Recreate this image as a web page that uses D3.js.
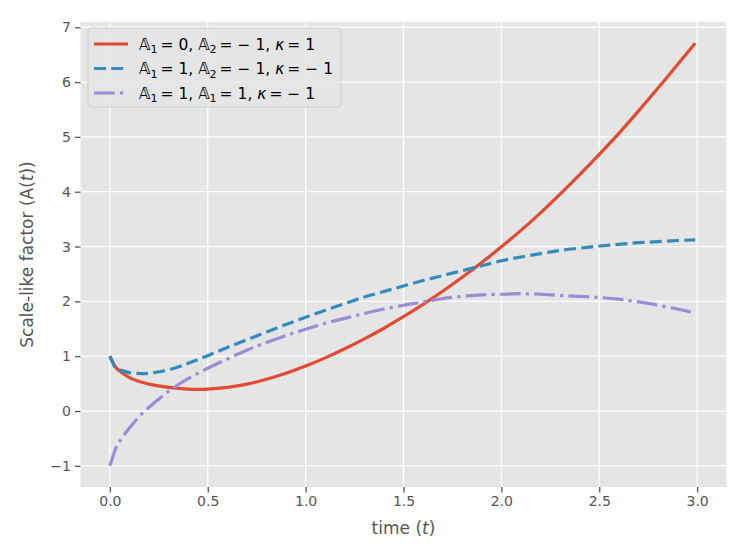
<!DOCTYPE html>
<html>
<head>
<meta charset="utf-8">
<script src="https://cdn.jsdelivr.net/npm/d3@7"></script>
<style>
  body { margin: 0; background: #fff; }
  svg { font-family: "DejaVu Sans", sans-serif; }
</style>
</head>
<body>
<svg id="chart" width="747" height="560"></svg>
<script>
// time samples and curves
const times = [0, 0.025, 0.05, 0.1, 0.15, 0.2, 0.3, 0.4, 0.5, 0.6, 0.7, 0.8, 0.9, 1.0,
  1.1, 1.2, 1.3, 1.4, 1.5, 1.6, 1.7, 1.8, 1.9, 2.0, 2.1, 2.2, 2.3, 2.4, 2.5, 2.6, 2.7, 2.8, 2.9, 2.99];

const redVals = [1.0, 0.82, 0.73, 0.61, 0.54, 0.49, 0.43, 0.40, 0.40, 0.43, 0.49, 0.58, 0.69, 0.82,
  0.97, 1.135, 1.315, 1.51, 1.72, 1.945, 2.185, 2.44, 2.71, 2.995, 3.295, 3.615, 3.955, 4.31, 4.68, 5.065, 5.47, 5.89, 6.32, 6.71];

const blueVals = [1.0, 0.81, 0.75, 0.70, 0.685, 0.69, 0.75, 0.87, 1.01, 1.16, 1.30, 1.44, 1.58, 1.71,
  1.84, 1.96, 2.08, 2.18, 2.28, 2.38, 2.47, 2.56, 2.65, 2.74, 2.81, 2.87, 2.93, 2.97, 3.01, 3.04, 3.07, 3.09, 3.11, 3.12];

const purpleVals = [-1.0, -0.73, -0.55, -0.31, -0.10, 0.07, 0.36, 0.59, 0.78, 0.95, 1.11, 1.25, 1.38, 1.49,
  1.60, 1.69, 1.78, 1.86, 1.93, 1.99, 2.05, 2.09, 2.12, 2.13, 2.14, 2.13, 2.11, 2.09, 2.07, 2.04, 1.99, 1.93, 1.86, 1.79];

const xTicks = [0, 0.5, 1.0, 1.5, 2.0, 2.5, 3.0];
const yTicks = [-1, 0, 1, 2, 3, 4, 5, 6, 7];

const series = [
  {name: 'red', vals: redVals, color: '#E24A33', dash: null,
   label: [['𝔸', '1', '= 0, '], ['𝔸', '2', '= − 1, '], ['κ', null, '= 1']]},
  {name: 'blue', vals: blueVals, color: '#348ABD', dash: '12,5.2',
   label: [['𝔸', '1', '= 1, '], ['𝔸', '2', '= − 1, '], ['κ', null, '= − 1']]},
  {name: 'purple', vals: purpleVals, color: '#988ED5', dash: '20.7,5.2,3.2,5.2',
   label: [['𝔸', '1', '= 1, '], ['𝔸', '1', '= 1, '], ['κ', null, '= − 1']]}
];

const svg = d3.select('#chart');
const margin = {left: 80.5, right: 20.5, top: 22, bottom: 73};
const W = 747, H = 560;

// matplotlib style 5% padding around the data
const allVals = [].concat(redVals, blueVals, purpleVals);
const xMin = 0, xMax = 3;
const yLo = d3.min(allVals), yHi = d3.max(allVals);
const xPad = (xMax - xMin) * 0.05, yPad = (yHi - yLo) * 0.05;

const x = d3.scaleLinear().domain([xMin - xPad, xMax + xPad]).range([margin.left, W - margin.right]);
const y = d3.scaleLinear().domain([yLo - yPad, yHi + yPad]).range([H - margin.bottom, margin.top]);

// background + grid
svg.append('rect')
  .attr('x', margin.left).attr('y', margin.top)
  .attr('width', W - margin.left - margin.right)
  .attr('height', H - margin.top - margin.bottom)
  .attr('fill', '#E5E5E5');

const grid = svg.append('g').attr('stroke', '#fff').attr('stroke-width', 1.3);
grid.selectAll('.gx').data(xTicks).enter().append('line')
  .attr('x1', d => x(d)).attr('x2', d => x(d))
  .attr('y1', margin.top).attr('y2', H - margin.bottom);
grid.selectAll('.gy').data(yTicks).enter().append('line')
  .attr('y1', d => y(d)).attr('y2', d => y(d))
  .attr('x1', margin.left).attr('x2', W - margin.right);

// axes
const fmtX = d3.format('.1f');
const fmtY = d => d3.format('d')(d).replace('-', '−');

const xAxis = svg.append('g')
  .attr('transform', `translate(0,${H - margin.bottom})`)
  .call(d3.axisBottom(x).tickValues(xTicks).tickFormat(fmtX).tickSize(5.5).tickPadding(4));
const yAxis = svg.append('g')
  .attr('transform', `translate(${margin.left},0)`)
  .call(d3.axisLeft(y).tickValues(yTicks).tickFormat(fmtY).tickSize(5.5).tickPadding(4));

[xAxis, yAxis].forEach(a => {
  a.select('.domain').remove();
  a.selectAll('.tick line').attr('stroke', '#555555').attr('stroke-width', 1.3);
  a.selectAll('.tick text').attr('fill', '#555555').attr('font-size', 14)
    .attr('font-family', '"DejaVu Sans", sans-serif');
});

// curves
const line = d3.line()
  .x((d, i) => x(times[i]))
  .y(d => y(d))
  .curve(d3.curveNatural);

const clip = svg.append('clipPath').attr('id', 'clip').append('rect')
  .attr('x', margin.left).attr('y', margin.top)
  .attr('width', W - margin.left - margin.right)
  .attr('height', H - margin.top - margin.bottom);

const plot = svg.append('g').attr('clip-path', 'url(#clip)');
series.forEach(s => {
  plot.append('path')
    .datum(s.vals)
    .attr('d', line)
    .attr('fill', 'none')
    .attr('stroke', s.color)
    .attr('stroke-width', 3.2)
    .attr('stroke-dasharray', s.dash);
});

// axis labels
svg.append('text')
  .attr('x', (margin.left + W - margin.right) / 2)
  .attr('y', 534)
  .attr('text-anchor', 'middle')
  .attr('fill', '#555555')
  .attr('font-size', 17)
  .call(t => {
    t.append('tspan').text('time (');
    t.append('tspan').attr('font-style', 'italic').text('t');
    t.append('tspan').text(')');
  });

svg.append('text')
  .attr('transform', `translate(33,${(margin.top + H - margin.bottom) / 2}) rotate(-90)`)
  .attr('text-anchor', 'middle')
  .attr('fill', '#555555')
  .attr('font-size', 17)
  .call(t => {
    t.append('tspan').text('Scale-like factor (');
    t.append('tspan').text('A(');
    t.append('tspan').attr('font-style', 'italic').text('t');
    t.append('tspan').text('))');
  });

// legend
const lg = svg.append('g').attr('transform', 'translate(88,28)');
lg.append('rect')
  .attr('width', 253).attr('height', 79)
  .attr('rx', 3)
  .attr('fill', '#E5E5E5').attr('fill-opacity', 0.8)
  .attr('stroke', '#cccccc').attr('stroke-width', 1);

series.forEach((s, i) => {
  const yy = 16 + i * 24.5;
  lg.append('line')
    .attr('x1', 6).attr('x2', 40)
    .attr('y1', yy).attr('y2', yy)
    .attr('stroke', s.color).attr('stroke-width', 3.2)
    .attr('stroke-dasharray', s.dash);
  const txt = lg.append('text')
    .attr('x', 51).attr('y', yy + 5.5)
    .attr('font-size', 15.5)
    .attr('fill', '#000');
  s.label.forEach(part => {
    txt.append('tspan').attr('font-style', 'italic').text(part[0]);
    if (part[1]) {
      txt.append('tspan').attr('font-size', 11).attr('dy', 3.5).text(part[1]);
      txt.append('tspan').attr('dy', -3.5).attr('dx', 3).text(part[2]);
    } else {
      txt.append('tspan').attr('dx', 3).text(part[2]);
    }
  });
});
</script>
</body>
</html>
